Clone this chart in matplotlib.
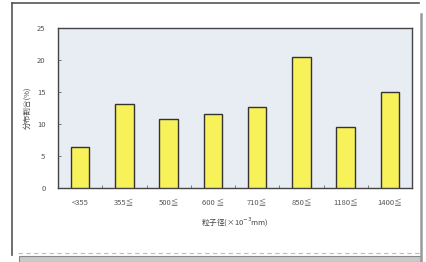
import matplotlib
matplotlib.use("Agg")
import matplotlib.pyplot as plt
from matplotlib.lines import Line2D
from matplotlib.patches import Rectangle

plt.rcParams['font.family'] = ['Noto Sans CJK JP', 'DejaVu Sans']

categories = ["<355", "355≦", "500≦", "600 ≦", "710≦", "850≦", "1180≦", "1400≦"]
values = [6.4, 13.1, 10.8, 11.6, 12.7, 20.5, 9.5, 15.0]
yticks = [0, 5, 10, 15, 20, 25]

W, H = 427, 262
fig = plt.figure(figsize=(W / 100, H / 100), dpi=100)
fig.patch.set_facecolor('white')

ax = fig.add_axes([58 / W, 1 - 188 / H, 354 / W, 160 / H])
ax.set_facecolor('#e8ecf3')
x = list(range(len(categories)))
ax.bar(x, values, width=0.42, color='#f7f15a', edgecolor='#333333', linewidth=1.0, zorder=3)
ax.set_xlim(-0.5, len(categories) - 0.5)
ax.set_ylim(0, 25)
ax.set_yticks(yticks)
ax.set_yticklabels([str(t) for t in yticks], fontsize=5.5, color='#555555')
ax.set_xticks(x)
ax.set_xticklabels(categories, fontsize=5.5, color='#555555')
ax.set_xticks([i + 0.5 for i in range(len(categories) - 1)], minor=True)
ax.tick_params(axis='y', direction='in', length=2, width=0.6, color='#666666', pad=9)
ax.tick_params(axis='x', which='major', length=0, pad=8)
ax.tick_params(axis='x', which='minor', direction='in', length=2, width=0.6, color='#666666')
for s in ax.spines.values():
    s.set_color('#444444')
    s.set_linewidth(1.0)

ax.set_ylabel('分布割合(%)', fontsize=5.5, color='#444444', labelpad=4)
fig.text(235 / W, 1 - 222 / H, '粒子径(×10$^{-3}$mm)', fontsize=5.5, color='#444444',
         ha='center', va='center')

# outer frame (scanned document look)
fig.add_artist(Line2D([12 / W, 12 / W], [1 - 3 / H, 1 - 255 / H], color='#555555', lw=1.2))
fig.add_artist(Line2D([12 / W, 419 / W], [1 - 3 / H, 1 - 3 / H], color='#555555', lw=1.2))
fig.add_artist(Line2D([421 / W, 421 / W], [1 - 14 / H, 0], color='#999999', lw=1.8))
fig.add_artist(Line2D([18 / W, 420 / W], [1 - 253 / H, 1 - 253 / H], color='#bbbbbb', lw=0.8, ls=(0, (4, 3))))
fig.add_artist(Rectangle((19 / W, 0), 402 / W, 6 / H, transform=fig.transFigure,
                         facecolor='#c8ccc8', edgecolor='#888888', lw=0.8))

fig.savefig('out.png', dpi=100)
